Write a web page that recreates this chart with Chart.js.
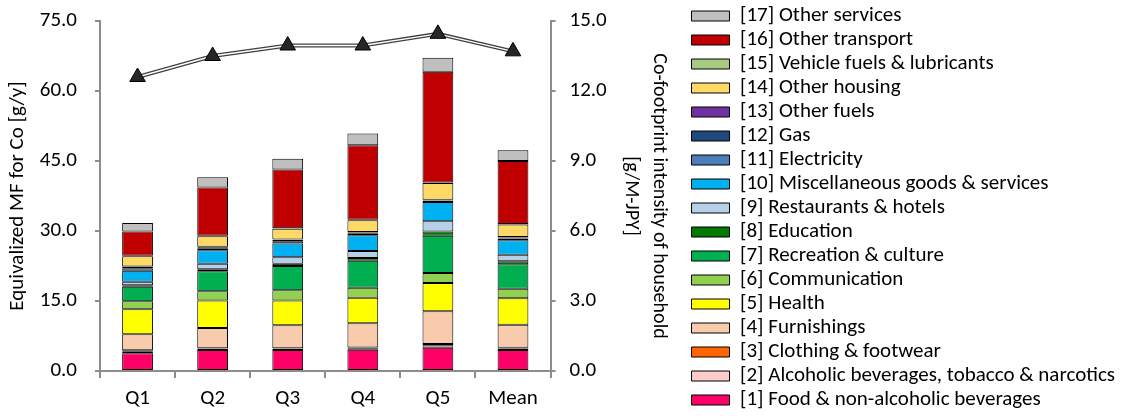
<!DOCTYPE html>
<html>
<head>
<meta charset="utf-8">
<script src="https://cdn.jsdelivr.net/npm/chart.js@4.4.1/dist/chart.umd.min.js"></script>
<style>
  html, body { margin: 0; padding: 0; background: #ffffff; }
  #wrap { width: 1125px; height: 416px; }
</style>
</head>
<body>
<div id="wrap"><canvas id="chart" width="1125" height="416"></canvas></div>
<script>
// Household quintiles plus the overall mean
const categories = ['Q1', 'Q2', 'Q3', 'Q4', 'Q5', 'Mean'];

// Equivalized material footprint for Co by consumption category [g/y]
const food          = [3.8, 4.5, 4.5, 4.55, 5.0, 4.5];
const alcohol       = [0.35, 0.25, 0.25, 0.3, 0.5, 0.3];
const clothing      = [0.3, 0.15, 0.15, 0.2, 0.3, 0.2];
const furnishings   = [3.4, 4.3, 4.9, 5.2, 7.0, 4.9];
const health        = [5.4, 5.9, 5.3, 5.45, 6.05, 5.7];
const communication = [1.7, 2.0, 2.2, 2.15, 2.15, 2.0];
const recreation    = [3.1, 4.3, 5.2, 5.75, 8.0, 5.25];
const education     = [0.35, 0.4, 0.5, 0.6, 0.9, 0.65];
const restaurants   = [0.7, 1.2, 1.4, 1.5, 2.2, 1.4];
const miscGoods     = [2.4, 2.9, 2.9, 3.4, 4.1, 3.1];
const electricity   = [0.5, 0.4, 0.5, 0.4, 0.3, 0.4];
const gas           = [0.3, 0.2, 0.3, 0.2, 0.1, 0.2];
const otherFuels    = [0.1, 0.1, 0.1, 0.1, 0.1, 0.1];
const otherHousing  = [2.2, 2.3, 2.3, 2.5, 3.6, 2.7];
const vehicleFuels  = [0.1, 0.1, 0.1, 0.1, 0.1, 0.1];
const otherTransport= [5.2, 10.3, 12.6, 16.0, 23.7, 13.5];
const otherServices = [1.8, 2.2, 2.3, 2.5, 3.0, 2.3];

// Co-footprint intensity of household expenditure [g/M-JPY]
const intensity = [12.6, 13.5, 13.95, 13.95, 14.45, 13.7];

// Axis tick values
const leftTicks  = [0, 15, 30, 45, 60, 75];
const rightTicks = [0, 3, 6, 9, 12, 15];

const series = [
  ['[1] Food & non-alcoholic beverages', food, '#FF0066'],
  ['[2] Alcoholic beverages, tobacco & narcotics', alcohol, '#FFCCCC'],
  ['[3] Clothing & footwear', clothing, '#FF6600'],
  ['[4] Furnishings', furnishings, '#F8CBAD'],
  ['[5] Health', health, '#FFFF00'],
  ['[6] Communication', communication, '#92D050'],
  ['[7] Recreation & culture', recreation, '#00B050'],
  ['[8] Education', education, '#007A00'],
  ['[9] Restaurants & hotels', restaurants, '#B5D0E8'],
  ['[10] Miscellaneous goods & services', miscGoods, '#00B0F0'],
  ['[11] Electricity', electricity, '#4A7EBB'],
  ['[12] Gas', gas, '#1F497D'],
  ['[13] Other fuels', otherFuels, '#7030A0'],
  ['[14] Other housing', otherHousing, '#FFD966'],
  ['[15] Vehicle fuels & lubricants', vehicleFuels, '#A9CB80'],
  ['[16] Other transport', otherTransport, '#C00000'],
  ['[17] Other services', otherServices, '#BFBFBF']
];

const FONT = 'Carlito, Lato, "Liberation Sans", sans-serif';
const AXIS = '#8C8C8C';

const barSets = series.map(([label, data, color]) => ({
  type: 'bar',
  label,
  data,
  backgroundColor: color,
  borderColor: '#000000',
  borderWidth: 1,
  borderSkipped: false,
  yAxisID: 'y',
  stack: 'mf',
  barPercentage: 0.41,
  categoryPercentage: 1.0,
  order: 10
}));

// Double-ruled intensity line: a grey stroke with a white core, markers on top
const lineSets = [
  { type: 'line', label: 'intensity-outer', data: intensity, yAxisID: 'y1',
    borderColor: '#404040', borderWidth: 4, pointRadius: 0, fill: false, order: 3 },
  { type: 'line', label: 'intensity-inner', data: intensity, yAxisID: 'y1',
    borderColor: '#FFFFFF', borderWidth: 1.3, pointRadius: 0, fill: false, order: 2 },
  { type: 'line', label: 'intensity-marks', data: intensity, yAxisID: 'y1',
    showLine: false, pointStyle: 'triangle', pointRadius: 9, pointHoverRadius: 9,
    pointBackgroundColor: '#262626', pointBorderColor: '#000000', pointBorderWidth: 1, order: 1 }
];

Chart.defaults.font.family = FONT;
Chart.defaults.color = '#000000';

// vertical axes: no extra label padding, the headroom comes from the title box
const trimPadding = (s, width) => {
  s.width = width;
  s.paddingTop = 0;
  s.paddingBottom = 0;
};

new Chart(document.getElementById('chart'), {
  data: { labels: categories, datasets: [...barSets, ...lineSets] },
  options: {
    responsive: false,
    animation: false,
    devicePixelRatio: 1,
    layout: { padding: 0 },
    plugins: {
      tooltip: { enabled: false },
      // empty title used only as headroom above the plot
      title: {
        display: true,
        text: '',
        fullSize: false,
        font: { size: 1, lineHeight: 1 },
        padding: { top: 20, bottom: 0 }
      },
      legend: {
        position: 'right',
        align: 'center',
        reverse: true,
        maxWidth: 470,
        labels: {
          filter: (item) => !String(item.text).startsWith('intensity'),
          boxWidth: 38,
          boxHeight: 10,
          padding: 3,
          color: '#000000',
          font: { size: 21, family: FONT }
        }
      }
    },
    scales: {
      x: {
        stacked: true,
        grid: { offset: true, drawOnChartArea: false, drawTicks: true, tickLength: 7, color: AXIS, lineWidth: 2 },
        border: { color: AXIS, width: 2 },
        ticks: { padding: 8, font: { size: 21 } },
        afterFit: (s) => { s.height = 45; }
      },
      y: {
        stacked: true,
        position: 'left',
        min: 0, max: 75,
        afterBuildTicks: (s) => { s.ticks = leftTicks.map(v => ({ value: v })); },
        grid: { drawOnChartArea: false, drawTicks: true, tickLength: 5, color: AXIS, lineWidth: 2 },
        border: { color: AXIS, width: 2 },
        ticks: { padding: 18, font: { size: 21 }, callback: (v) => Number(v).toFixed(1) },
        title: { display: true, text: 'Equivalized MF for Co [g/y]', font: { size: 21 }, padding: { top: 5, bottom: 0 } },
        afterFit: (s) => trimPadding(s, 100)
      },
      y1: {
        position: 'right',
        min: 0, max: 15,
        afterBuildTicks: (s) => { s.ticks = rightTicks.map(v => ({ value: v })); },
        grid: { drawOnChartArea: false, drawTicks: true, tickLength: 5, color: AXIS, lineWidth: 2 },
        border: { color: AXIS, width: 2 },
        ticks: { padding: 14, font: { size: 21 }, callback: (v) => Number(v).toFixed(1) },
        title: { display: true, text: ['Co-footprint intensity of household', '[g/M-JPY]'], font: { size: 20, lineHeight: 1.4 }, padding: { top: 16, bottom: 0 } },
        afterFit: (s) => trimPadding(s, 138)
      }
    }
  }
});
</script>
</body>
</html>
